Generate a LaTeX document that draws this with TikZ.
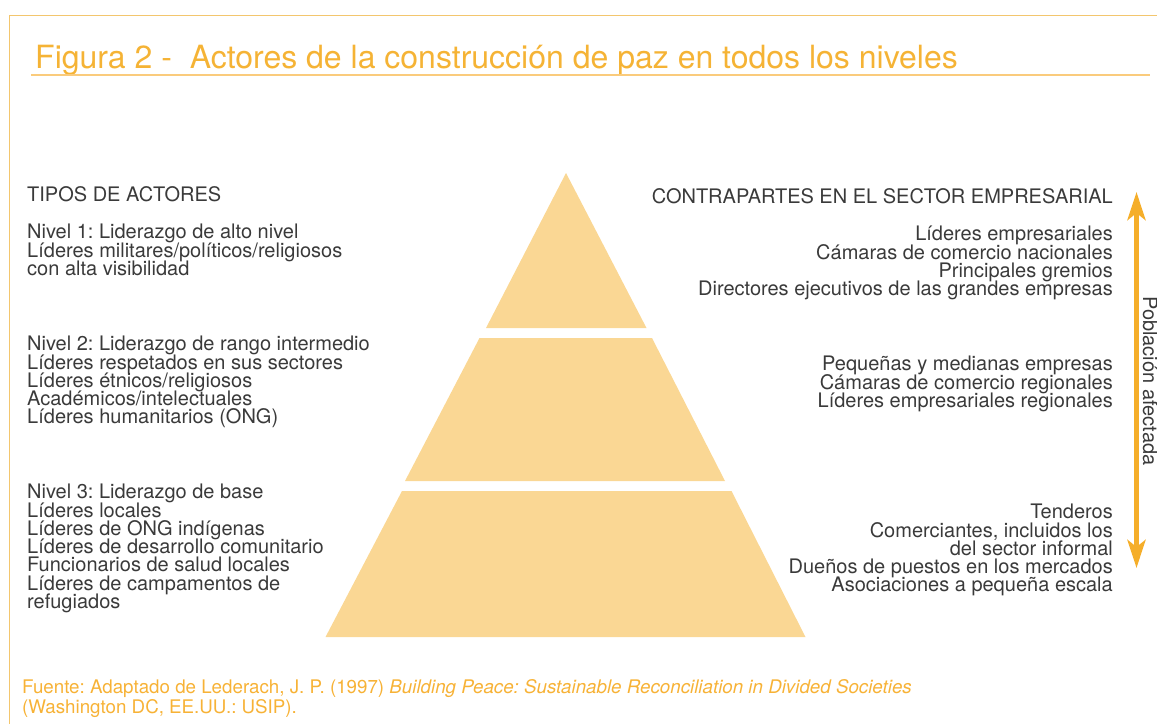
\documentclass[tikz,border=0pt]{standalone}
\usepackage{fontspec}
\setmainfont{TeX Gyre Heros}
\usetikzlibrary{arrows.meta}
\frenchspacing
\definecolor{txtgray}{HTML}{3A3A3A}
\definecolor{titlec}{HTML}{F5B335}
\definecolor{footc}{HTML}{F7B236}
\definecolor{bordc}{HTML}{F3C66E}
\definecolor{ulc}{HTML}{FACB7C}
\definecolor{pyrfill}{HTML}{FAD794}
\definecolor{arrowc}{HTML}{F5AE2A}
\tikzset{
  txt/.style={font=\fontsize{20}{18.3}\selectfont, text=txtgray, inner sep=0pt},
  lefttxt/.style={txt, anchor=base west},
  righttxt/.style={txt, anchor=base east},
  foottxt/.style={font=\fontsize{18.75}{20}\selectfont, text=footc, inner sep=0pt, anchor=base west},
  pyr/.style={fill=pyrfill},
  bigarrow/.style={draw=arrowc, line width=5pt,
    {Stealth[length=28pt,width=18pt,inset=7pt]}-{Stealth[length=28pt,width=18pt,inset=7pt]}}
}
\begin{document}
\begin{tikzpicture}[x=1pt,y=-1pt]
\useasboundingbox (0,0) rectangle (1157,724);
% frame
\draw[bordc, line width=1pt] (9,724) -- (9,15) -- (1157,15);
% title
\node[font=\fontsize{32}{36}\selectfont, text=titlec, inner sep=0pt, anchor=base west] (title) at (35,68)
  {Figura 2 -\ \ Actores de la construcción de paz en todos los niveles};
\draw[ulc, line width=1.2pt] (31,75) -- (1150,75);
% pyramid
\fill[pyr] (566,173) -- (646.5,328) -- (486,328) -- cycle;
\fill[pyr] (479.5,338) -- (652,338) -- (725,481) -- (405,481) -- cycle;
\fill[pyr] (402,491) -- (731.5,491) -- (805.5,637) -- (325.5,637) -- cycle;
% left texts
\node[lefttxt] (tipos) at (27,201) {TIPOS DE ACTORES};
\foreach \t [count=\i] in {Nivel 1: Liderazgo de alto nivel, Líderes militares/políticos/religiosos, con alta visibilidad}
  \node[lefttxt] (la\i) at (27,{238.7+18.3*(\i-1)}) {\t};
\foreach \t [count=\i] in {Nivel 2: Liderazgo de rango intermedio, Líderes respetados en sus sectores, Líderes étnicos/religiosos, Académicos/intelectuales, Líderes humanitarios (ONG)}
  \node[lefttxt] (lb\i) at (27,{350.7+18.3*(\i-1)}) {\t};
\foreach \t [count=\i] in {Nivel 3: Liderazgo de base, Líderes locales, Líderes de ONG indígenas, Líderes de desarrollo comunitario, Funcionarios de salud locales, Líderes de campamentos de, refugiados}
  \node[lefttxt] (lc\i) at (27,{498.7+18.3*(\i-1)}) {\t};
% right texts
\node[righttxt] (contra) at (1113,203) {CONTRAPARTES EN EL SECTOR EMPRESARIAL};
\foreach \t [count=\i] in {Líderes empresariales, Cámaras de comercio nacionales, Principales gremios, Directores ejecutivos de las grandes empresas}
  \node[righttxt] (ra\i) at (1113,{240.7+18.3*(\i-1)}) {\t};
\foreach \t [count=\i] in {Pequeñas y medianas empresas, Cámaras de comercio regionales, Líderes empresariales regionales}
  \node[righttxt] (rb\i) at (1113,{370.7+18.3*(\i-1)}) {\t};
\foreach \t [count=\i] in {Tenderos, {Comerciantes, incluidos los}, del sector informal, Dueños de puestos en los mercados, Asociaciones a pequeña escala}
  \node[righttxt] (rc\i) at (1113,{518.7+18.3*(\i-1)}) {\t};
% arrow
\coordinate (atop) at (1136.5,192);
\coordinate (abot) at (1136.5,568);
\draw[bigarrow] (atop) -- (abot);
\node[txt, rotate=-90, anchor=base] (pob) at (1143,381) {Población afectada};
% footer
\node[foottxt] (f1) at (22,693.3) {Fuente: Adaptado de Lederach, J. P. (1997) \textit{Building Peace: Sustainable Reconciliation in Divided Societies}};
\node[foottxt] (f2) at (22,713.3) {(Washington DC, EE.UU.: USIP).};
\end{tikzpicture}
\end{document}
